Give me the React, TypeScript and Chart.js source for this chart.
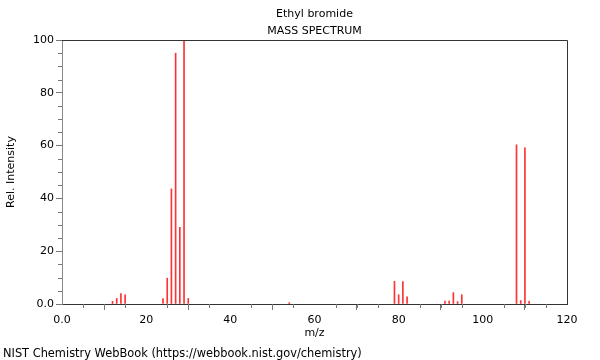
import React, { useEffect, useRef } from "react";
import { Chart, registerables } from "chart.js";

Chart.register(...registerables);

const titleLines = ["Ethyl bromide", "MASS SPECTRUM"];
const footerText = "NIST Chemistry WebBook (https://webbook.nist.gov/chemistry)";
const xLabel = "m/z";
const yLabel = "Rel. Intensity";

const mz = [12, 13, 14, 15, 24, 25, 26, 27, 28, 29, 30, 54, 79, 80, 81, 82, 91, 92, 93, 94, 95, 108, 109, 110, 111];
const intensity = [1.0, 2.1, 3.9, 3.5, 2.1, 9.8, 43.6, 95, 29, 100, 2.1, 0.5, 8.6, 3.5, 8.5, 2.7, 1.1, 1.1, 4.3, 0.9, 3.5, 60.3, 1.3, 59.2, 1.0];

const xMin = 0;
const xMax = 120;
const yMin = 0;
const yMax = 100;
const minorStep = 5;
const majorStep = 20;

const FONT = "'DejaVu Sans', sans-serif";

const fmt = (v: number) => (v === 0 ? "0.0" : String(v));

const framePlugin = {
  id: "frame",
  afterDraw(chart: any) {
    const { ctx, chartArea } = chart;
    const { left, right, top, bottom } = chartArea;
    ctx.save();
    ctx.strokeStyle = "#333";
    ctx.lineWidth = 1;
    ctx.beginPath();
    ctx.moveTo(left, top + 0.5);
    ctx.lineTo(right + 0.5, top + 0.5);
    ctx.lineTo(right + 0.5, bottom);
    ctx.stroke();
    ctx.strokeStyle = "#777";
    const xs = chart.scales.x;
    for (let v = xMin; v <= xMax; v += minorStep) {
      if (v % majorStep === 0) continue;
      const px = Math.round(xs.getPixelForValue(v)) + 0.5;
      ctx.beginPath();
      ctx.moveTo(px, bottom);
      ctx.lineTo(px, bottom + 4);
      ctx.stroke();
    }
    const ys = chart.scales.y;
    for (let v = yMin; v <= yMax; v += minorStep) {
      if (v % majorStep === 0) continue;
      const py = Math.round(ys.getPixelForValue(v)) + 0.5;
      ctx.beginPath();
      ctx.moveTo(left, py);
      ctx.lineTo(left - 4, py);
      ctx.stroke();
    }
    ctx.restore();
  },
};

export default function App() {
  const ref = useRef<HTMLCanvasElement | null>(null);

  useEffect(() => {
    if (!ref.current) return;
    const chart = new Chart(ref.current, {
      type: "bar",
      data: {
        datasets: [
          {
            data: mz.map((m, i) => ({ x: m, y: intensity[i] })),
            backgroundColor: "rgb(255,50,50)",
            borderWidth: 0,
            barThickness: 1,
          } as any,
        ],
      },
      plugins: [framePlugin],
      options: {
        animation: false,
        responsive: false,
        maintainAspectRatio: false,
        layout: { padding: { left: 0, right: 33, top: 0, bottom: 0 } },
        plugins: {
          legend: { display: false },
          tooltip: { enabled: false },
          title: {
            display: true,
            text: titleLines,
            fullSize: false,
            color: "#000",
            font: { family: FONT, size: 11, weight: "normal", lineHeight: "17px" } as any,
            padding: { top: 5.5, bottom: 0.5 },
          },
        },
        scales: {
          x: {
            type: "linear",
            min: xMin,
            max: xMax,
            offset: false,
            afterFit: (s: any) => {
              s.height = 56;
            },
            ticks: {
              stepSize: majorStep,
              autoSkip: false,
              maxRotation: 0,
              padding: 4,
              color: "#000",
              font: { family: FONT, size: 11 },
              callback: (v: any) => fmt(Number(v)),
            },
            grid: {
              drawOnChartArea: false,
              tickLength: 6,
              tickColor: "#777",
            },
            border: { color: "#333", width: 1 },
            title: {
              display: true,
              text: xLabel,
              color: "#000",
              font: { family: FONT, size: 11 },
              padding: { top: 0, bottom: 20 },
            },
          },
          y: {
            type: "linear",
            min: yMin,
            max: yMax,
            afterFit: (s: any) => {
              s.width = 62;
            },
            ticks: {
              stepSize: majorStep,
              autoSkip: false,
              padding: 2,
              color: "#000",
              font: { family: FONT, size: 11 },
              callback: (v: any) => fmt(Number(v)),
            },
            grid: {
              drawOnChartArea: false,
              tickLength: 6,
              tickColor: "#777",
            },
            border: { color: "#888", width: 1 },
            title: {
              display: true,
              text: yLabel,
              color: "#000",
              font: { family: FONT, size: 11 },
              padding: { top: 5, bottom: 0 },
            },
          },
        },
      },
    } as any);
    return () => chart.destroy();
  }, []);

  return (
    <div style={{ position: "absolute", left: 0, top: 0, width: 600, height: 360, background: "#fff" }}>
      <canvas ref={ref} width={600} height={360} style={{ display: "block", width: 600, height: 360 }} />
      <div
        style={{
          position: "absolute",
          left: 3,
          top: 346,
          fontFamily: FONT,
          fontSize: 11.4,
          lineHeight: "14px",
          color: "#000",
          whiteSpace: "nowrap",
        }}
      >
        {footerText}
      </div>
    </div>
  );
}
